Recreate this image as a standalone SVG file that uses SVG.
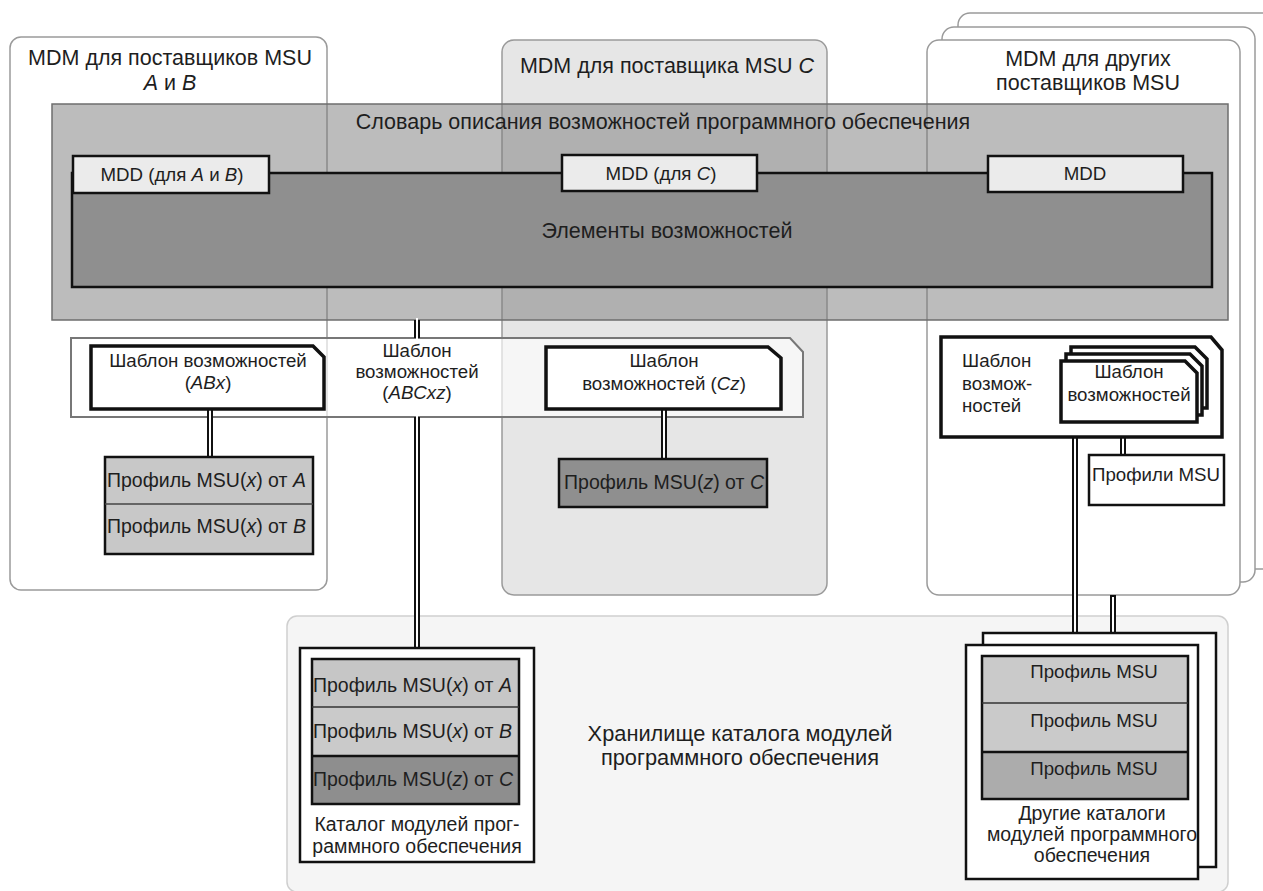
<svg xmlns="http://www.w3.org/2000/svg" width="1263" height="891" viewBox="0 0 1263 891">
<style>
text{font-family:"Liberation Sans",Arial,sans-serif;fill:#1e1e1e}
.t21{font-size:21.5px}
.t19{font-size:19.5px}
.t18{font-size:18.7px}
.c{text-anchor:middle}
.i{font-style:italic}
.cont{fill:#fff;stroke:#9a9a9a;stroke-width:1.5}
.box{stroke:#111;stroke-width:2.5}
.tpl{fill:#fff;stroke:#111;stroke-width:3.5;stroke-linejoin:miter}
.dlb{stroke:#111;stroke-width:6;fill:none}
.dlw{stroke:#fff;stroke-width:2;fill:none}
</style>
<rect width="1263" height="891" fill="#fff"/>

<g id="mdm-ab">
<rect class="cont" x="10" y="37" width="317" height="553" rx="11"/>
<text class="t21 c" x="170" y="65">MDM для поставщиков MSU</text>
<text class="t21 c" x="170" y="90"><tspan class="i">A</tspan> и <tspan class="i">B</tspan></text>
</g>

<g id="mdm-c">
<rect x="502" y="40" width="325" height="555" rx="12" fill="#e6e6e6" stroke="#9a9a9a" stroke-width="1.5"/>
<text class="t21 c" x="667" y="73">MDM для поставщика MSU <tspan class="i">C</tspan></text>
</g>

<g id="mdm-other">
<rect class="cont" x="958" y="13" width="320" height="556" rx="12"/>
<rect class="cont" x="942" y="27" width="313" height="555" rx="12"/>
<rect class="cont" x="927" y="40" width="313" height="555" rx="12" fill="#fafafa"/>
<text class="t21 c" x="1088" y="66">MDM для других</text>
<text class="t21 c" x="1088" y="90">поставщиков MSU</text>
</g>

<g id="storage">
<rect x="287" y="616" width="941" height="276" rx="10" fill="#f5f5f5" stroke="#cfcfcf" stroke-width="1.5"/>
<text class="c" style="font-size:21.8px" x="740" y="741">Хранилище каталога модулей</text>
<text class="c" style="font-size:21.8px" x="740" y="765">программного обеспечения</text>
</g>

<g id="dictionary">
<rect x="52" y="104" width="1176" height="216" fill="#7a7a7a" fill-opacity="0.5" stroke="#6e6e6e" stroke-width="1.5"/>
<text class="t21 c" x="663" y="129">Словарь описания возможностей программного обеспечения</text>
</g>

<g id="elements">
<rect x="72" y="173" width="1140" height="114" fill="#8f8f8f" stroke="#111" stroke-width="2.5"/>
<text class="t21 c" x="667" y="238">Элементы возможностей</text>
</g>

<g id="mdd-ab">
<rect class="box" x="73" y="156" width="196" height="37" fill="#ebebeb"/>
<text class="t18 c" x="172" y="181">MDD (для <tspan class="i">A</tspan> и <tspan class="i">B</tspan>)</text>
</g>
<g id="mdd-c">
<rect class="box" x="562" y="155" width="195" height="36" fill="#ebebeb"/>
<text class="t18 c" x="661" y="180">MDD (для <tspan class="i">C</tspan>)</text>
</g>
<g id="mdd">
<rect class="box" x="988" y="156" width="195" height="36" fill="#ebebeb"/>
<text class="t18 c" x="1085" y="180">MDD</text>
</g>

<g id="template-band">
<polygon points="71,338 790,338 803,352 803,417 71,417" fill="#fff" fill-opacity="0.65" stroke="#777" stroke-width="2"/>
</g>

<g id="connectors">
<path class="dlb" d="M417,320V338 M417,417V648 M210,409V457 M664,409V459 M1075,437V633 M1123,437V455 M1113,595V633"/>
<path class="dlw" d="M417,318V340 M417,415V650 M210,407V459 M664,407V461 M1075,435V635 M1123,435V457 M1113,597V635"/>
</g>

<g id="template-abx">
<polygon class="tpl" points="91,346 313,346 324,357 324,409 91,409"/>
<text class="t18 c" x="208" y="367">Шаблон возможностей</text>
<text class="t18 c" x="208" y="389">(<tspan class="i">ABx</tspan>)</text>
</g>

<g id="template-abcxz">
<text class="t18 c" x="417" y="357">Шаблон</text>
<text class="t18 c" x="417" y="378">возможностей</text>
<text class="t18 c" x="417" y="399">(<tspan class="i">ABCxz</tspan>)</text>
</g>

<g id="template-cz">
<polygon class="tpl" points="546,347 768,347 781,358 781,409 546,409"/>
<text class="t18 c" x="664" y="367">Шаблон</text>
<text class="t18 c" x="664" y="390">возможностей (<tspan class="i">Cz</tspan>)</text>
</g>

<g id="template-other">
<polygon class="tpl" points="941,337 1211,337 1222,350 1222,437 941,437"/>
<text class="t18" x="962" y="367">Шаблон</text>
<text class="t18" x="962" y="390">возмож-</text>
<text class="t18" x="962" y="412">ностей</text>
<polygon class="tpl" points="1071,347 1195,347 1207,359 1207,408 1071,408" fill="#e6e6e6"/>
<polygon class="tpl" points="1066,354 1190,354 1202,366 1202,415 1066,415" fill="#e6e6e6"/>
<polygon class="tpl" points="1061,361 1185,361 1197,373 1197,422 1061,422" fill="#e6e6e6"/>
<text class="t18 c" x="1129" y="378">Шаблон</text>
<text class="t18 c" x="1129" y="401">возможностей</text>
</g>

<g id="profiles-msu">
<rect class="box" x="1089" y="455" width="135" height="50" fill="#fff"/>
<text class="t18 c" x="1156" y="481">Профили MSU</text>
</g>

<g id="profile-ab">
<rect class="box" x="105" y="457" width="208" height="97" fill="#c8c8c8"/>
<line x1="105" y1="504" x2="313" y2="504" stroke="#444" stroke-width="1.5"/>
<text class="t19" x="107" y="487">Профиль MSU(<tspan class="i">x</tspan>) от <tspan class="i">A</tspan></text>
<text class="t19" x="107" y="533">Профиль MSU(<tspan class="i">x</tspan>) от <tspan class="i">B</tspan></text>
</g>

<g id="profile-c">
<rect class="box" x="559" y="459" width="208" height="48" fill="#8f8f8f"/>
<text class="t19 c" x="664" y="489">Профиль MSU(<tspan class="i">z</tspan>) от <tspan class="i">C</tspan></text>
</g>

<g id="catalog">
<rect class="box" x="300" y="648" width="234" height="214" fill="#fff"/>
<rect x="312" y="659" width="207" height="48" fill="#c6c6c6"/>
<rect x="312" y="707" width="207" height="49" fill="#cacaca"/>
<rect x="312" y="756" width="207" height="48" fill="#8e8e8e"/>
<rect class="box" x="312" y="659" width="207" height="145" fill="none"/>
<line x1="312" y1="707" x2="519" y2="707" stroke="#333" stroke-width="1.5"/>
<line x1="312" y1="756" x2="519" y2="756" stroke="#111" stroke-width="2.5"/>
<text class="t19" x="313" y="692">Профиль MSU(<tspan class="i">x</tspan>) от <tspan class="i">A</tspan></text>
<text class="t19" x="313" y="738">Профиль MSU(<tspan class="i">x</tspan>) от <tspan class="i">B</tspan></text>
<text class="t19" x="313" y="786">Профиль MSU(<tspan class="i">z</tspan>) от <tspan class="i">C</tspan></text>
<text class="t19 c" x="417" y="831">Каталог модулей прог-</text>
<text class="t19 c" x="417" y="853">раммного обеспечения</text>
</g>

<g id="other-catalogs">
<rect class="box" x="983" y="633" width="233" height="234" fill="#fff"/>
<rect class="box" x="966" y="645" width="232" height="234" fill="#fff"/>
<rect x="982" y="656" width="206" height="47" fill="#cacaca"/>
<rect x="982" y="703" width="206" height="49" fill="#cacaca"/>
<rect x="982" y="752" width="206" height="47" fill="#acacac"/>
<rect class="box" x="982" y="656" width="206" height="143" fill="none"/>
<line x1="982" y1="703" x2="1188" y2="703" stroke="#333" stroke-width="1.5"/>
<line x1="982" y1="752" x2="1188" y2="752" stroke="#111" stroke-width="2.5"/>
<text class="t18 c" x="1094" y="678">Профиль MSU</text>
<text class="t18 c" x="1094" y="727">Профиль MSU</text>
<text class="t18 c" x="1094" y="775">Профиль MSU</text>
<text class="t19 c" x="1092" y="820">Другие каталоги</text>
<text class="t19 c" x="1092" y="841">модулей программного</text>
<text class="t19 c" x="1092" y="862">обеспечения</text>
</g>
</svg>
